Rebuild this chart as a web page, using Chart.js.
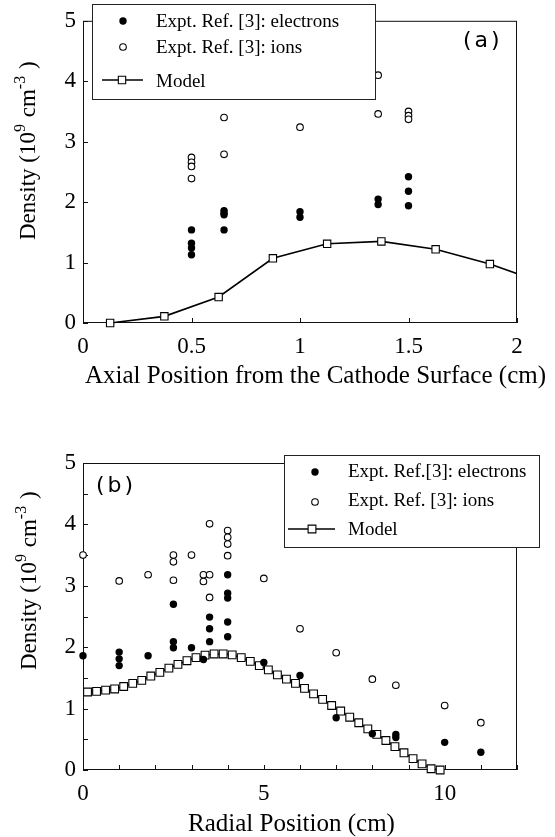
<!DOCTYPE html>
<html lang="en">
<head>
<meta charset="UTF-8">
<title>Density profiles</title>
<script src="https://cdn.jsdelivr.net/npm/chart.js@4.4.1/dist/chart.umd.min.js"></script>
<style>
  body { margin: 0; background: #fff; width: 555px; height: 837px; overflow: hidden; position: relative; }
  .panel { position: absolute; left: 0; width: 555px; }
  #top { top: 0; height: 420px; }
  #bot { top: 420px; height: 417px; }
</style>
</head>
<body>
<div class="panel" id="top"><canvas id="chartA" width="555" height="420"></canvas></div>
<div class="panel" id="bot"><canvas id="chartB" width="555" height="417"></canvas></div>
<script>
// ---------- panel (a): axial position ----------
const aXTicks = [0, 0.5, 1, 1.5, 2];
const aYTicks = [0, 1, 2, 3, 4, 5];

const aElecX = [0.5, 0.5, 0.5, 0.5, 0.65, 0.65, 0.65, 0.65, 1.0, 1.0, 1.36, 1.36, 1.5, 1.5, 1.5];
const aElecY = [1.54, 1.32, 1.24, 1.13, 1.86, 1.82, 1.79, 1.54, 1.84, 1.75, 2.05, 1.96, 2.42, 2.18, 1.94];

const aIonX = [0.5, 0.5, 0.5, 0.5, 0.65, 0.65, 1.0, 1.36, 1.36, 1.5, 1.5, 1.5];
const aIonY = [2.74, 2.66, 2.59, 2.39, 3.40, 2.79, 3.24, 4.10, 3.46, 3.50, 3.43, 3.37];

const aModelX = [0.125, 0.375, 0.625, 0.875, 1.125, 1.375, 1.625, 1.875, 2.125];
const aModelY = [0.0, 0.11, 0.43, 1.07, 1.31, 1.35, 1.22, 0.975, 0.66];

// ---------- panel (b): radial position ----------
const bXTicks = [0, 1, 2, 3, 4, 5, 6, 7, 8, 9, 10, 11, 12];
const bXLabeled = [0, 5, 10];
const bYTicks = [0, 0.5, 1, 1.5, 2, 2.5, 3, 3.5, 4, 4.5, 5];
const bYLabeled = [0, 1, 2, 3, 4, 5];

const bElecX = [0, 1, 1, 1, 1.8, 2.5, 2.5, 2.5, 3.0, 3.33, 3.5, 3.5, 3.5, 4, 4, 4, 4, 4, 5, 6, 7, 8, 8.65, 8.65, 10, 11];
const bElecY = [1.86, 1.92, 1.81, 1.70, 1.86, 2.70, 2.09, 1.99, 1.99, 1.80, 2.49, 2.30, 2.09, 3.18, 2.88, 2.80, 2.41, 2.17, 1.75, 1.54, 0.85, 0.59, 0.58, 0.53, 0.45, 0.29];

const bIonX = [0, 1, 1.8, 2.5, 2.5, 2.5, 3.0, 3.33, 3.33, 3.5, 3.5, 3.5, 4, 4, 4, 4, 5, 6, 7, 8, 8.65, 10, 11];
const bIonY = [3.50, 3.08, 3.18, 3.50, 3.39, 3.09, 3.50, 3.18, 3.07, 4.01, 3.18, 2.81, 3.90, 3.79, 3.68, 3.49, 3.12, 2.30, 1.91, 1.48, 1.38, 1.05, 0.77];

const bModelX = [0.125, 0.375, 0.625, 0.875, 1.125, 1.375, 1.625, 1.875, 2.125, 2.375,
                 2.625, 2.875, 3.125, 3.375, 3.625, 3.875, 4.125, 4.375, 4.625, 4.875,
                 5.125, 5.375, 5.625, 5.875, 6.125, 6.375, 6.625, 6.875, 7.125, 7.375,
                 7.625, 7.875, 8.125, 8.375, 8.625, 8.875, 9.125, 9.375, 9.625, 9.875];
const bModelY = [1.27, 1.28, 1.30, 1.32, 1.36, 1.41, 1.46, 1.53, 1.59, 1.66,
                 1.72, 1.78, 1.83, 1.87, 1.89, 1.89, 1.875, 1.83, 1.77, 1.70,
                 1.63, 1.55, 1.48, 1.41, 1.33, 1.24, 1.15, 1.05, 0.96, 0.86,
                 0.77, 0.67, 0.58, 0.48, 0.38, 0.28, 0.185, 0.10, 0.02, 0.0];

const serif = '"Liberation Serif", "Times New Roman", serif';

function pts(xs, ys) { return xs.map((x, i) => ({ x: x, y: ys[i] })); }

function elecSet(label, xs, ys) {
  return { label: label, data: pts(xs, ys), pointStyle: 'circle', pointRadius: 3.7,
           pointBackgroundColor: '#000', pointBorderWidth: 0, showLine: false, clip: false };
}
function ionSet(label, xs, ys) {
  return { label: label, data: pts(xs, ys), pointStyle: 'circle', pointRadius: 3.3,
           pointBackgroundColor: '#fff', pointBorderColor: '#000', pointBorderWidth: 1.1, showLine: false, clip: false };
}
function modelSet(xs, ys, r) {
  return { label: 'Model', data: pts(xs, ys), showLine: true, borderColor: '#000', borderWidth: 1.6,
           pointStyle: 'rect', pointRadius: r, pointBackgroundColor: '#fff', pointBorderColor: '#000',
           pointBorderWidth: 1.1, tension: 0, clip: { left: false, top: false, right: 0, bottom: false } };
}

function axis(min, max, tickVals, labeled, pad, fit) {
  return {
    type: 'linear', min: min, max: max,
    afterBuildTicks: s => { s.ticks = tickVals.map(v => ({ value: v })); },
    ticks: { autoSkip: false, maxRotation: 0, color: '#000', padding: pad,
             font: { family: serif, size: 23 },
             callback: v => labeled.includes(v) ? String(v) : '' },
    grid: { display: false, drawTicks: false },
    border: { display: false },
    afterFit: fit
  };
}

// layout / decorations for each canvas
const deco = {
  chartA: {
    legend: { box: [92.5, 4.5, 283, 95], rows: [
      { mx: 123, my: 21, tx: 156, ty: 27 },
      { mx: 123, my: 47, tx: 156, ty: 53 },
      { mx: 122, my: 80, l0: 102, l1: 143, tx: 156, ty: 87 } ] },
    panel: { text: '(a)', x: 463, y: 47 },
    xTitle: { text: 'Axial Position from the Cathode Surface (cm)', x: 85, y: 383 },
    yTitle: { x: 35, y: 240 }
  },
  chartB: {
    legend: { box: [284.5, 35.5, 255, 92], rows: [
      { mx: 315, my: 52, tx: 348, ty: 57 },
      { mx: 315, my: 82, tx: 348, ty: 86 },
      { mx: 312, my: 109, l0: 288, l1: 335, tx: 348, ty: 115 } ] },
    panel: { text: '(b)', x: 96, y: 72 },
    xTitle: { text: 'Radial Position (cm)', x: 188, y: 411 },
    yTitle: { x: 36, y: 250 }
  }
};

function marker(ctx, ds, x, y) {
  ctx.lineWidth = ds.pointBorderWidth || 1;
  ctx.fillStyle = ds.pointBackgroundColor;
  ctx.strokeStyle = ds.pointBorderColor || '#000';
  ctx.beginPath();
  if (ds.pointStyle === 'rect') {
    const h = ds.pointRadius * Math.SQRT1_2;
    ctx.rect(x - h, y - h, 2 * h, 2 * h);
  } else {
    ctx.arc(x, y, ds.pointRadius, 0, Math.PI * 2);
  }
  ctx.fill();
  if (ds.pointBorderWidth > 0) ctx.stroke();
}

const framePlugin = {
  id: 'frame',
  beforeDatasetsDraw(chart) {
    const { ctx, chartArea: a, scales } = chart;
    ctx.save();
    ctx.strokeStyle = '#111';
    ctx.lineWidth = 1;
    ctx.strokeRect(a.left + 0.5, a.top + 0.5, a.right - a.left - 1, a.bottom - a.top - 1);
    ctx.beginPath();
    scales.x.ticks.forEach(t => {
      const px = Math.round(scales.x.getPixelForValue(t.value)) + 0.5;
      ctx.moveTo(px, a.bottom); ctx.lineTo(px, a.bottom - 5);
    });
    scales.y.ticks.forEach(t => {
      const py = Math.round(scales.y.getPixelForValue(t.value)) + 0.5;
      ctx.moveTo(a.left, py); ctx.lineTo(a.left + 5, py);
    });
    ctx.stroke();
    ctx.restore();
  },
  afterDraw(chart) {
    const d = deco[chart.canvas.id];
    const ctx = chart.ctx;
    const sets = chart.data.datasets;
    ctx.save();

    // legend box
    const b = d.legend.box;
    ctx.fillStyle = '#fff';
    ctx.fillRect(b[0], b[1], b[2], b[3]);
    ctx.strokeStyle = '#222';
    ctx.lineWidth = 1;
    ctx.strokeRect(b[0], b[1], b[2], b[3]);
    ctx.font = '19px ' + serif;
    ctx.textBaseline = 'alphabetic';
    ctx.textAlign = 'left';
    d.legend.rows.forEach((r, i) => {
      const ds = sets[i];
      if (r.l0 !== undefined) {
        ctx.strokeStyle = '#000';
        ctx.lineWidth = 1.5;
        ctx.beginPath(); ctx.moveTo(r.l0, r.my); ctx.lineTo(r.l1, r.my); ctx.stroke();
      }
      marker(ctx, ds, r.mx, r.my);
      ctx.fillStyle = '#000';
      ctx.fillText(ds.label, r.tx, r.ty);
    });

    // panel label
    ctx.font = '22px "DejaVu Sans", sans-serif';
    ctx.letterSpacing = '3px';
    ctx.fillText(d.panel.text, d.panel.x, d.panel.y);
    ctx.letterSpacing = '0px';

    // x title
    ctx.font = '25px ' + serif;
    ctx.fillText(d.xTitle.text, d.xTitle.x, d.xTitle.y);

    // y title with superscripts
    ctx.translate(d.yTitle.x, d.yTitle.y);
    ctx.rotate(-Math.PI / 2);
    const parts = [['Density (10', 0], ['9', 1], [' cm', 0], ['-3', 1], [' )', 0]];
    let x = 0;
    parts.forEach(p => {
      ctx.font = (p[1] ? '16px ' : '23px ') + serif;
      ctx.fillText(p[0], x, p[1] ? -10 : 0);
      x += ctx.measureText(p[0]).width + (p[1] ? 1 : 0);
    });
    ctx.restore();
  }
};

const common = {
  responsive: false, animation: false, devicePixelRatio: 1,
  plugins: { legend: { display: false }, tooltip: { enabled: false } }
};

new Chart(document.getElementById('chartA'), {
  type: 'scatter',
  data: { datasets: [
    elecSet('Expt. Ref. [3]: electrons', aElecX, aElecY),
    ionSet('Expt. Ref. [3]: ions', aIonX, aIonY),
    modelSet(aModelX, aModelY, 5.2)
  ] },
  options: Object.assign({}, common, {
    layout: { padding: { left: 0, top: 17, right: 38, bottom: 0 } },
    scales: {
      x: axis(0, 2, aXTicks, aXTicks, 10, s => { s.height = 97; }),
      y: axis(0, 5, aYTicks, aYTicks, 7, s => { s.width = 83; })
    }
  }),
  plugins: [framePlugin]
});

new Chart(document.getElementById('chartB'), {
  type: 'scatter',
  data: { datasets: [
    elecSet('Expt. Ref.[3]: electrons', bElecX, bElecY),
    ionSet('Expt. Ref. [3]: ions', bIonX, bIonY),
    modelSet(bModelX, bModelY, 5.5)
  ] },
  options: Object.assign({}, common, {
    layout: { padding: { left: 0, top: 43, right: 38, bottom: 0 } },
    scales: {
      x: axis(0, 12, bXTicks, bXLabeled, 10, s => { s.height = 67; }),
      y: axis(0, 5, bYTicks, bYLabeled, 7, s => { s.width = 83; })
    }
  }),
  plugins: [framePlugin]
});
</script>
</body>
</html>
